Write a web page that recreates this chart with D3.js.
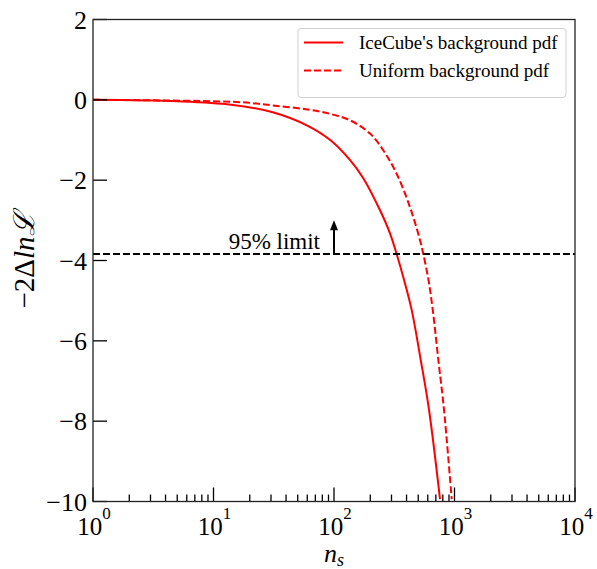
<!DOCTYPE html>
<html lang="en">

<head>
    <meta charset="UTF-8">
    <title>likelihood scan</title>
    <script src="https://cdn.jsdelivr.net/npm/d3@7/dist/d3.min.js"></script>
    <style>
        body {
            margin: 0;
            background-color: #fff;
            font-family: "Liberation Serif", "DejaVu Serif", serif;
        }
    </style>
</head>

<body>
</body>

<script>
    let width = 597;
    let height = 569;
    let margin = { top: 19.5, right: 22, bottom: 67.5, left: 93 };

    // values
    let icecubeNs = [1, 5, 14, 31, 60, 93, 136, 175, 241, 292, 331, 381, 441, 524, 614, 758];
    let icecubeVal = [0, -0.035, -0.12, -0.31, -0.64, -1.0, -1.5, -1.95, -2.75, -3.33, -3.84, -4.48, -5.23, -6.47, -7.71, -9.94];
    let uniformNs = [1, 17, 31, 60, 93, 136, 199, 257, 331, 427, 517, 551, 608, 660, 734, 818, 948];
    let uniformVal = [0, -0.06, -0.14, -0.24, -0.35, -0.51, -0.84, -1.26, -1.84, -2.67, -3.49, -3.84, -4.48, -5.23, -6.47, -7.71, -9.94];
    let limitVal = -3.84;
    let arrowNs = 100;
    let arrowTop = -3.0;
    let yTicks = [2, 0, -2, -4, -6, -8, -10];
    let xTicks = [1, 10, 100, 1000, 10000];
    let legendLabels = ["IceCube's background pdf", "Uniform background pdf"];

    let w = width - margin.left - margin.right;
    let h = height - margin.top - margin.bottom;

    let x = d3.scaleLog().domain([1, 10000]).range([0, w]);
    let y = d3.scaleLinear().domain([-10, 2]).range([h, 0]);

    let svg = d3.select("body").append("svg")
        .attr("width", width)
        .attr("height", height);

    svg.append("defs").append("clipPath").attr("id", "clip")
        .append("rect").attr("width", w).attr("height", h);

    let g = svg.append("g")
        .attr("transform", "translate(" + margin.left + "," + margin.top + ")");

    // curves
    let line = d3.line()
        .x(d => x(d[0]))
        .y(d => y(d[1]))
        .curve(d3.curveCatmullRom.alpha(0.5));

    let plot = g.append("g").attr("clip-path", "url(#clip)");

    plot.append("path")
        .datum(d3.zip(icecubeNs, icecubeVal))
        .attr("d", line)
        .attr("fill", "none")
        .attr("stroke", "#ff0000")
        .attr("stroke-width", 2);

    plot.append("path")
        .datum(d3.zip(uniformNs, uniformVal))
        .attr("d", line)
        .attr("fill", "none")
        .attr("stroke", "#ff0000")
        .attr("stroke-width", 2)
        .attr("stroke-dasharray", "7,3");

    // 95% limit line
    plot.append("line")
        .attr("x1", 0).attr("x2", w)
        .attr("y1", y(limitVal)).attr("y2", y(limitVal))
        .attr("stroke", "#000")
        .attr("stroke-width", 2)
        .attr("stroke-dasharray", "7,3");

    // arrow
    g.append("line")
        .attr("x1", x(arrowNs)).attr("x2", x(arrowNs))
        .attr("y1", y(limitVal)).attr("y2", y(arrowTop) + 8)
        .attr("stroke", "#000")
        .attr("stroke-width", 2);
    g.append("path")
        .attr("d", "M" + (x(arrowNs) - 4) + "," + (y(arrowTop) + 10) +
            "L" + x(arrowNs) + "," + y(arrowTop) +
            "L" + (x(arrowNs) + 4) + "," + (y(arrowTop) + 10) + "Z")
        .attr("fill", "#000");

    g.append("text")
        .attr("x", x(arrowNs) - 14)
        .attr("y", y(limitVal) - 5)
        .attr("text-anchor", "end")
        .attr("font-size", 23)
        .text("95% limit");

    // y axis ticks
    let yAxis = g.append("g");
    yAxis.selectAll("line").data(yTicks).enter().append("line")
        .attr("x1", 0).attr("x2", 14)
        .attr("y1", d => y(d)).attr("y2", d => y(d))
        .attr("stroke", "#000").attr("stroke-width", 1.3);
    yAxis.selectAll("text").data(yTicks).enter().append("text")
        .attr("x", -6)
        .attr("y", d => y(d))
        .attr("dy", "0.35em")
        .attr("text-anchor", "end")
        .attr("font-size", 26)
        .text(d => d < 0 ? "\u2212" + Math.abs(d) : d);

    // x axis ticks (major + minor)
    let minor = [];
    for (let e = 0; e < 4; e++) {
        for (let k = 2; k < 10; k++) minor.push(k * Math.pow(10, e));
    }
    let xAxis = g.append("g").attr("transform", "translate(0," + h + ")");
    xAxis.selectAll("line.minor").data(minor).enter().append("line")
        .attr("class", "minor")
        .attr("x1", d => x(d)).attr("x2", d => x(d))
        .attr("y1", 0).attr("y2", -7)
        .attr("stroke", "#000").attr("stroke-width", 1.3);
    xAxis.selectAll("line.major").data(xTicks).enter().append("line")
        .attr("class", "major")
        .attr("x1", d => x(d)).attr("x2", d => x(d))
        .attr("y1", 0).attr("y2", -14)
        .attr("stroke", "#000").attr("stroke-width", 1.3);
    let xl = xAxis.selectAll("text").data(xTicks).enter().append("text")
        .attr("x", d => x(d) + 1)
        .attr("y", 33)
        .attr("text-anchor", "middle")
        .attr("font-size", 25);
    xl.append("tspan").text("10");
    xl.append("tspan")
        .attr("dy", -16)
        .attr("font-size", 17)
        .text(d => Math.round(Math.log10(d)));

    // frame
    g.append("rect")
        .attr("width", w).attr("height", h)
        .attr("fill", "none")
        .attr("stroke", "#222")
        .attr("stroke-width", 1.3);

    // axis labels
    let xlab = svg.append("text")
        .attr("x", margin.left + w / 2)
        .attr("y", 562)
        .attr("text-anchor", "middle")
        .attr("font-size", 26)
        .attr("font-style", "italic");
    xlab.append("tspan").text("n");
    xlab.append("tspan").attr("dy", 4).attr("font-size", 18).text("s");

    let ylab = svg.append("text")
        .attr("transform", "translate(34," + (margin.top + y(-4)) + ") rotate(-90)")
        .attr("text-anchor", "middle")
        .attr("font-size", 29);
    ylab.append("tspan").text("\u22122\u0394");
    ylab.append("tspan").attr("font-style", "italic").text("ln\u2112");

    // legend
    let legend = svg.append("g").attr("transform", "translate(298,28.5)");
    legend.append("rect")
        .attr("width", 268).attr("height", 69)
        .attr("rx", 3)
        .attr("fill", "#fff")
        .attr("stroke", "#d0d0d0")
        .attr("stroke-width", 1);
    let rows = legend.selectAll("g.row").data(legendLabels).enter().append("g")
        .attr("class", "row")
        .attr("transform", (d, i) => "translate(0," + (14 + i * 28) + ")");
    rows.append("line")
        .attr("x1", 6).attr("x2", 45)
        .attr("y1", 0).attr("y2", 0)
        .attr("stroke", "#ff0000")
        .attr("stroke-width", 2)
        .attr("stroke-dasharray", (d, i) => i ? "7,3" : null);
    rows.append("text")
        .attr("x", 61)
        .attr("dy", "0.35em")
        .attr("font-size", 19)
        .text(d => d);
</script>

</html>
